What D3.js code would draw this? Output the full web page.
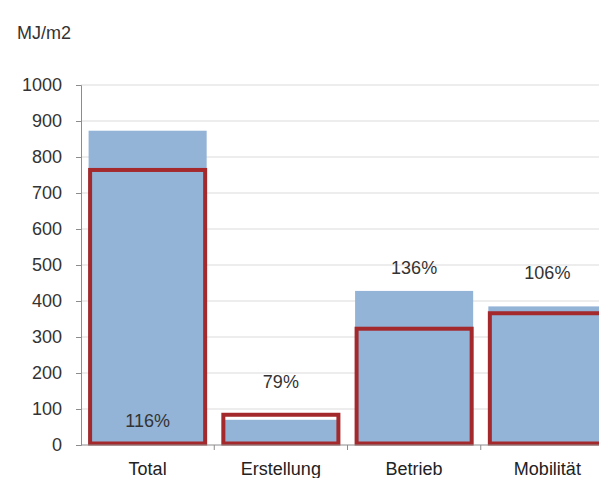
<!DOCTYPE html>
<html>
<head>
<meta charset="utf-8">
<script src="https://cdn.jsdelivr.net/npm/d3@7"></script>
<style>
  body { margin: 0; background: #fff; }
  svg { display: block; font-family: "Liberation Sans", Arial, sans-serif; }
</style>
</head>
<body>
<div id="chart"></div>
<script>
// ========================
// DATA
// ========================
const categories = ["Total", "Erstellung", "Betrieb", "Mobilität"];
const blueValues = [873, 70, 428, 385];      // filled bars
const redValues = [764, 84, 323, 366];       // outlined bars
const pctLabels = ["116%", "79%", "136%", "106%"];
const pctLabelY = [69, 176, 492, 478];       // label height in MJ/m2 units
const yTicks = [0, 100, 200, 300, 400, 500, 600, 700, 800, 900, 1000];

const width = 599, height = 478;
const margin = { left: 81, top: 85, bottom: 33 };

const svg = d3.select("#chart").append("svg")
    .attr("width", width)
    .attr("height", height);

const x = d3.scaleBand()
    .domain(categories)
    .range([margin.left, 614])
    .paddingInner(0.114)
    .paddingOuter(0.057);

const y = d3.scaleLinear()
    .domain([0, 1000])
    .range([height - margin.bottom, margin.top]);

// gridlines
svg.append("g")
    .selectAll("line")
    .data(yTicks.filter(d => d > 0))
    .enter()
    .append("line")
    .attr("x1", margin.left)
    .attr("x2", width)
    .attr("y1", d => y(d))
    .attr("y2", d => y(d))
    .attr("stroke", "#dcdcdc")
    .attr("stroke-width", 1.2);

// blue bars
svg.append("g")
    .selectAll("rect")
    .data(categories)
    .enter()
    .append("rect")
    .attr("x", d => x(d))
    .attr("width", x.bandwidth())
    .attr("y", (d, i) => y(blueValues[i]))
    .attr("height", (d, i) => y(0) - y(blueValues[i]))
    .attr("fill", "#93b3d7");

// red outlined bars
svg.append("g")
    .selectAll("rect")
    .data(categories)
    .enter()
    .append("rect")
    .attr("x", d => x(d) + 1.5)
    .attr("width", x.bandwidth() - 3)
    .attr("y", (d, i) => y(redValues[i]))
    .attr("height", (d, i) => y(0) - y(redValues[i]) - 1.5)
    .attr("fill", "none")
    .attr("stroke", "#a3292c")
    .attr("stroke-width", 4);

// y axis
const yAxis = svg.append("g")
    .attr("transform", `translate(${margin.left},0)`)
    .call(d3.axisLeft(y).tickValues(yTicks).tickFormat(d3.format("d")).tickSize(5).tickPadding(14));
yAxis.select(".domain").attr("stroke", "#8c8c8c");
yAxis.selectAll(".tick line").attr("stroke", "#8c8c8c");
yAxis.selectAll(".tick text")
    .attr("font-size", "18px")
    .attr("fill", "#333")
    .attr("font-family", "Liberation Sans, Arial, sans-serif");

// x axis
const xAxisY = y(0);
svg.append("line")
    .attr("x1", margin.left)
    .attr("x2", width)
    .attr("y1", xAxisY)
    .attr("y2", xAxisY)
    .attr("stroke", "#8c8c8c");

const boundaries = categories.map(d => x(d) - x.step() * x.paddingInner() / 2).slice(1);
svg.append("g")
    .selectAll("line")
    .data(boundaries)
    .enter()
    .append("line")
    .attr("x1", d => d)
    .attr("x2", d => d)
    .attr("y1", xAxisY)
    .attr("y2", xAxisY + 5)
    .attr("stroke", "#8c8c8c");

svg.append("g")
    .selectAll("text")
    .data(categories)
    .enter()
    .append("text")
    .attr("x", d => x(d) + x.bandwidth() / 2)
    .attr("y", 475)
    .attr("text-anchor", "middle")
    .attr("font-size", "18px")
    .attr("fill", "#222")
    .text(d => d);

// percentage labels
svg.append("g")
    .selectAll("text")
    .data(pctLabels)
    .enter()
    .append("text")
    .attr("x", (d, i) => x(categories[i]) + x.bandwidth() / 2)
    .attr("y", (d, i) => y(pctLabelY[i]))
    .attr("dy", "0.36em")
    .attr("text-anchor", "middle")
    .attr("font-size", "18px")
    .attr("fill", "#333")
    .text(d => d);

// unit label
svg.append("text")
    .attr("x", 17)
    .attr("y", 39)
    .attr("font-size", "18px")
    .attr("fill", "#333")
    .text("MJ/m2");
</script>
</body>
</html>
